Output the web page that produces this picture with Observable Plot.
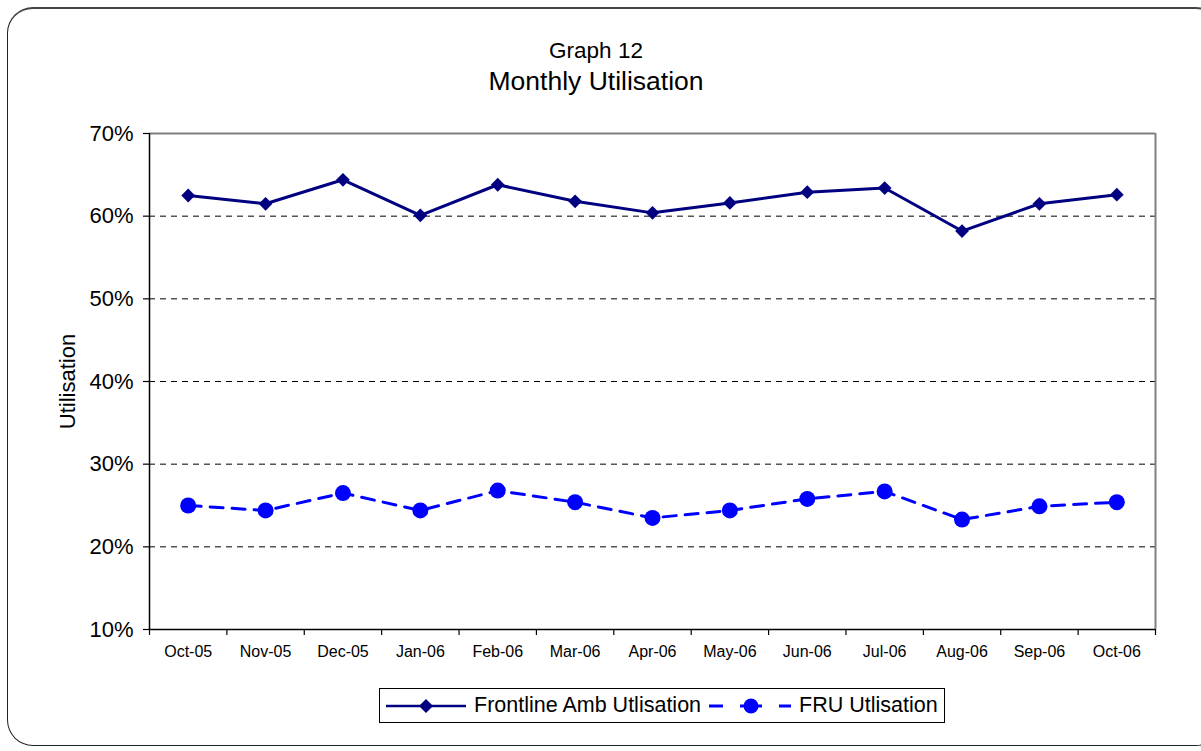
<!DOCTYPE html>
<html><head><meta charset="utf-8">
<script src="https://cdn.jsdelivr.net/npm/d3@7"></script>
<script src="https://cdn.jsdelivr.net/npm/@observablehq/plot@0.6"></script>
<style>
body{margin:0;background:#fff;font-family:Arial,"Liberation Sans",sans-serif;}
#wrap{position:relative;width:1201px;height:751px;overflow:hidden;background:#fff;}
#frame{position:absolute;left:7px;top:7px;width:1215px;height:739px;border:1.5px solid #222;border-top:2px solid #444;border-radius:26px;box-sizing:border-box;}
#plot{position:absolute;left:0;top:0;}
.t1{position:absolute;left:0;width:1192px;text-align:center;color:#000;white-space:nowrap;}
#legend{position:absolute;left:379px;top:688px;width:566px;height:35px;border:1px solid #000;box-sizing:border-box;background:#fff;}
#legend svg{position:absolute;left:0;top:0;}
#legend span{position:absolute;top:4px;font-size:21.5px;line-height:25px;color:#000;white-space:nowrap;}
</style>
</head><body>
<div id="wrap">
  <div id="frame"></div>
  <div id="plot"></div>
  <div class="t1" style="top:38px;font-size:22.5px;line-height:26px;">Graph 12</div>
  <div class="t1" style="top:66px;font-size:26.5px;line-height:30px;">Monthly Utilisation</div>
  <div id="legend">
    <svg width="566" height="35">
      <line x1="6" x2="86" y1="17" y2="17" stroke="#000080" stroke-width="2.5"/>
      <path d="M46,10 L53,17 L46,24 L39,17 Z" fill="#000080"/>
      <line x1="329" x2="343" y1="17" y2="17" stroke="#0000ff" stroke-width="3"/>
      <line x1="360" x2="382" y1="17" y2="17" stroke="#0000ff" stroke-width="3"/>
      <line x1="399" x2="411" y1="17" y2="17" stroke="#0000ff" stroke-width="3"/>
      <circle cx="371" cy="17" r="7.5" fill="#0000ff"/>
    </svg>
    <span style="left:94px;">Frontline Amb Utlisation</span>
    <span style="left:419px;">FRU Utlisation</span>
  </div>
</div>
<script>
const months = ["Oct-05","Nov-05","Dec-05","Jan-06","Feb-06","Mar-06","Apr-06","May-06","Jun-06","Jul-06","Aug-06","Sep-06","Oct-06"];
const frontline = [62.5,61.5,64.4,60.1,63.8,61.8,60.4,61.6,62.9,63.4,58.2,61.5,62.6];
const fru = [25.0,24.4,26.5,24.4,26.8,25.4,23.5,24.4,25.8,26.7,23.3,24.9,25.4];
const yTicks = [10,20,30,40,50,60,70];
const gridLines = [20,30,40,50,60];

const n = months.length;
const centers = d3.range(n);
const bounds = d3.range(n + 1).map(i => i - 0.5);

const chart = Plot.plot({
  width: 1201,
  height: 751,
  marginLeft: 149,
  marginRight: 46,
  marginTop: 133,
  marginBottom: 122,
  style: {fontFamily: "Arial, 'Liberation Sans', sans-serif", background: "transparent", color: "#000", overflow: "visible"},
  x: {type: "linear", domain: [-0.5, n - 0.5]},
  y: {domain: [10, 70]},
  marks: [
    Plot.ruleY(gridLines, {stroke: "#000", strokeDasharray: "6,5", strokeWidth: 1}),
    Plot.ruleY([70], {stroke: "#808080", strokeWidth: 2}),
    Plot.ruleX([n - 0.5], {stroke: "#808080", strokeWidth: 2}),
    Plot.ruleY([10], {stroke: "#000", strokeWidth: 1.5}),
    Plot.ruleX([-0.5], {stroke: "#000", strokeWidth: 1.5}),
    Plot.axisY({ticks: yTicks, tickFormat: d => d + "%", tickSize: 6, tickPadding: 10, fontSize: 22, label: null, stroke: "#000", strokeWidth: 1.2}),
    Plot.axisX({ticks: bounds, tickFormat: () => "", tickSize: 6, label: null, stroke: "#000", strokeWidth: 1.2}),
    Plot.axisX({ticks: centers, tickFormat: i => months[i], tickSize: 0, tickPadding: 16, fontSize: 16, label: null}),
    Plot.text(["Utilisation"], {frameAnchor: "left", textAnchor: "middle", dx: -82, rotate: -90, fontSize: 22, fill: "#000"}),
    Plot.lineY(fru, {x: (d, i) => i, y: d => d, stroke: "#0000ff", strokeWidth: 3, strokeDasharray: "13,9"}),
    Plot.dot(fru, {x: (d, i) => i, y: d => d, r: 8, fill: "#0000ff", stroke: "none"}),
    Plot.lineY(frontline, {x: (d, i) => i, y: d => d, stroke: "#000080", strokeWidth: 3}),
    Plot.dot(frontline, {x: (d, i) => i, y: d => d, symbol: "diamond2", r: 6.2, fill: "#000080", stroke: "none"})
  ]
});
document.getElementById("plot").appendChild(chart);
</script>
</body></html>
